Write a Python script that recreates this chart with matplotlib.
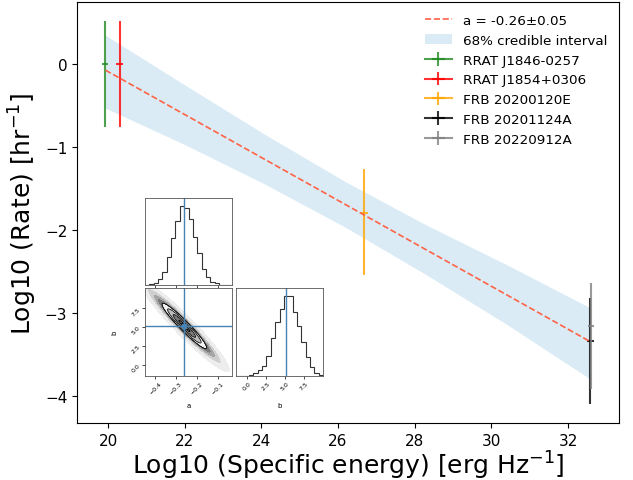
import numpy as np
import matplotlib
matplotlib.use("Agg")
from matplotlib import pyplot as plt

# power-law fit in log-log space
slope = -0.259
intercept = 5.09
slope_err = 0.05

# sources: log10 specific energy vs log10 rate
names = ["RRAT J1846-0257", "RRAT J1854+0306", "FRB 20200120E", "FRB 20201124A", "FRB 20220912A"]
log_energy = [19.92, 20.30, 26.69, 32.58, 32.60]
log_rate = [0.0, 0.0, -1.79, -3.34, -3.165]
rate_err_lo = [0.76, 0.76, 0.76, 0.76, 0.76]
rate_err_hi = [0.52, 0.52, 0.52, 0.52, 0.52]
energy_err = [0.09, 0.09, 0.09, 0.09, 0.09]
colors = ["forestgreen", "red", "orange", "black", "gray"]

# 68% credible band, read at a few energies
band_x = [19.93, 22.0, 24.1, 26.2, 28.3, 30.4, 32.58]
band_lo = [-0.53, -0.97, -1.45, -1.97, -2.54, -3.14, -3.80]
band_hi = [0.35, -0.25, -0.85, -1.42, -1.94, -2.42, -2.94]

# corner plot of the posterior (20 bins each)
a_range = (-0.45, -0.03)
b_range = (-1.5, 10.1)
a_counts = [0, 10, 30, 70, 170, 350, 590, 810, 1000, 970, 830, 610, 400, 200, 100, 40, 20, 5, 2, 0]
b_counts = [0, 5, 5, 10, 35, 80, 130, 250, 480, 670, 840, 1000, 1000, 800, 630, 430, 240, 110, 40, 10]
a_med, b_med = -0.26, 5.1
sd_a, sd_b, rho = 0.054, 1.5, -0.955

W, H = 633, 481
fig = plt.figure(figsize=(W / 100, H / 100), dpi=100)
ax = fig.add_axes([77 / W, (H - 424) / H, 542 / W, 421 / H])

# fit line and band
fit_x = np.array([band_x[0], band_x[-1]])
ax.plot(fit_x, slope * fit_x + intercept, ls="--", color="tomato", lw=1.2, zorder=3,
        label="a = %.2f\u00b1%.2f" % (slope, slope_err))
ax.fill_between(band_x, band_lo, band_hi, color=(0.53, 0.75, 0.88), alpha=0.3, lw=0,
                label="68% credible interval")

for i in range(len(names)):
    ax.errorbar(log_energy[i], log_rate[i], xerr=energy_err[i],
                yerr=[[rate_err_lo[i]], [rate_err_hi[i]]],
                color=colors[i], alpha=0.8, label=names[i])

ax.set_xlim(19.19, 33.33)
ax.set_ylim(-4.33, 0.75)
ax.set_xticks([20, 22, 24, 26, 28, 30, 32])
ax.set_yticks([-4, -3, -2, -1, 0])
ax.tick_params(labelsize=11)
ax.set_xlabel("Log10 (Specific energy) [erg Hz$^{-1}$]", fontsize=18, labelpad=0.5)
ax.set_ylabel("Log10 (Rate) [hr$^{-1}$]", fontsize=18)
ax.legend(loc="upper right", frameon=False, fontsize=9.7)

# inset corner plot
ax_a = fig.add_axes([145 / W, (H - 286) / H, 87 / W, 87 / H])
ax_ab = fig.add_axes([145 / W, (H - 377) / H, 87 / W, 88 / H])
ax_b = fig.add_axes([236 / W, (H - 377) / H, 87 / W, 88 / H])

a_edges = np.linspace(a_range[0], a_range[1], len(a_counts) + 1)
b_edges = np.linspace(b_range[0], b_range[1], len(b_counts) + 1)
ax_a.stairs(a_counts, a_edges, color="#333333", lw=0.8)
ax_a.axvline(a_med, color="#4682b4", lw=1)
ax_a.set_xlim(a_range)
ax_a.set_ylim(0, 1.1 * max(a_counts))

ax_b.stairs(b_counts, b_edges, color="#333333", lw=0.8)
ax_b.axvline(b_med, color="#4682b4", lw=1)
ax_b.set_xlim(b_range)
ax_b.set_ylim(0, 1.1 * max(b_counts))

# 2d posterior drawn from its summary statistics
ga, gb = np.meshgrid(np.linspace(a_range[0], a_range[1], 300), np.linspace(b_range[0], b_range[1], 300))
za = (ga - a_med) / sd_a
zb = (gb - b_med) / sd_b
r = np.sqrt((za ** 2 - 2 * rho * za * zb + zb ** 2) / (1 - rho ** 2))
ax_ab.contourf(ga, gb, r, levels=[0, 0.5, 1, 1.5, 2, 2.4, 2.8, 3.3, 4],
               colors=["#1a1a1a", "#7a7a7a", "#bdbdbd", "#f4f4f4", "#7a7a7a", "#a5a5a5", "#cfcfcf", "#ededed"])
ax_ab.contour(ga, gb, r, levels=[0.5, 1, 1.5, 2], colors="k", linewidths=0.6)
ax_ab.axvline(a_med, color="#4682b4", lw=1)
ax_ab.axhline(b_med, color="#4682b4", lw=1)
ax_ab.plot(a_med, b_med, "s", color="#4682b4", ms=3)
ax_ab.set_xlim(a_range)
ax_ab.set_ylim(b_range)

for sub in (ax_a, ax_ab, ax_b):
    sub.tick_params(labelsize=4.5, length=2, width=0.5, pad=1)
    for sp in sub.spines.values():
        sp.set_linewidth(0.6)
        sp.set_color("#555555")

ax_a.set_xticks([-0.4, -0.3, -0.2, -0.1])
ax_a.set_xticklabels([])
ax_a.set_yticks([])
ax_ab.set_xticks([-0.4, -0.3, -0.2, -0.1])
ax_ab.set_yticks([0, 2.5, 5, 7.5])
ax_b.set_xticks([0, 2.5, 5, 7.5])
ax_b.set_yticks([])
for lab in ax_ab.get_xticklabels() + ax_ab.get_yticklabels() + ax_b.get_xticklabels():
    lab.set_rotation(45)

ax_ab.set_xlabel("a", fontsize=5)
ax_ab.set_ylabel("b", fontsize=5)
ax_b.set_xlabel("b", fontsize=5)
ax_ab.xaxis.set_label_coords(0.5, -0.3)
ax_ab.yaxis.set_label_coords(-0.32, 0.5)
ax_b.xaxis.set_label_coords(0.5, -0.3)

fig.savefig("out.png", dpi=100)
